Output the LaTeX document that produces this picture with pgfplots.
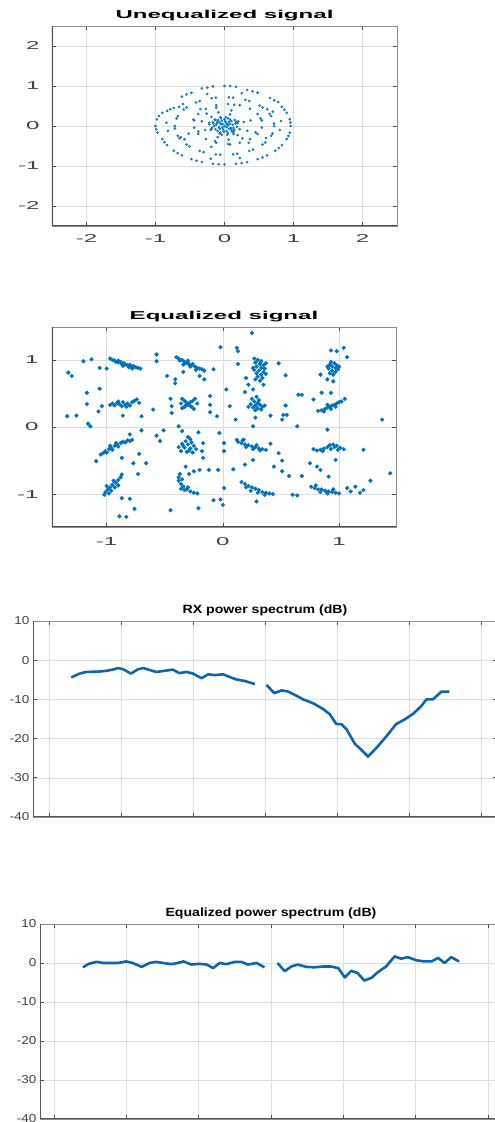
\documentclass[border=0pt]{standalone}
\usepackage{fontspec}
\setmainfont{Liberation Sans}
\usepackage{pgfplots}
\pgfplotsset{compat=1.18}
% the reference is stretched sideways, so the text is too
\newfontfamily\scfont{Liberation Sans}[FakeStretch=2.1]
\newfontfamily\spfont{Liberation Sans}[FakeStretch=1.18]
\definecolor{mblue}{rgb}{0,0.447,0.741}
\definecolor{lblue}{rgb}{0.05,0.40,0.68}

\pgfplotsset{
  matbase/.style={
    scale only axis, anchor=south west,
    axis line style={draw=black!45, line width=0.6bp},
    grid=major, major grid style={draw=black!13, line width=0.5bp},
    tick style={draw=black!70, line width=0.6bp},
    major tick length=4bp, tick align=inside,
    /pgf/number format/assume math mode=true,
    title style={at={(0.5,1)}, anchor=south, inner sep=1bp, yshift=-2.5bp},
  },
  scat/.style={matbase,
    ticklabel style={font=\scfont\fontsize{11.5}{12}\selectfont, text=black!75},
    title style={font=\scfont\bfseries\fontsize{11.5}{12}\selectfont},
    yticklabel style={xshift=-9bp},
    xticklabel style={yshift=-5bp},
  },
  spec/.style={matbase,
    ticklabel style={font=\spfont\fontsize{11.5}{12}\selectfont, text=black!75},
    title style={font=\spfont\bfseries\fontsize{12}{13}\selectfont},
    ymin=-40, ymax=10, ytick={-40,-30,-20,-10,0,10},
    xtick={0,1,2,3,4,5,6}, xticklabels={},
    unbounded coords=jump,
  },
}

\begin{document}
\begin{tikzpicture}
\useasboundingbox (0,0) rectangle (495bp,1122bp);

% ---------- Unequalized signal ----------
\begin{axis}[scat, at={(52bp,896bp)}, width=345bp, height=200bp,
  xmin=-2.5, xmax=2.5, ymin=-2.5, ymax=2.5,
  xtick={-2,-1,0,1,2}, ytick={-2,-1,0,1,2},
  title={Unequalized signal}]
\addplot[mblue, only marks, mark=*, mark size=1.1bp, mark options={draw=none, fill=mblue, fill opacity=0.8}] coordinates {
 (0.96,0) (0.956,0.084) (0.946,0.167) (0.902,0.328) (0.87,0.406) (0.831,0.48)
 (0.78,0.6) (0.72,0.64) (0.66,0.7) (0.48,0.831) (0.406,0.87) (0.328,0.902)
 (0.167,0.98) (0.084,1.0) (0,1.0) (-0.167,0.99) (-0.248,0.96) (-0.328,0.94)
 (-0.48,0.831) (-0.551,0.786) (-0.617,0.735) (-0.735,0.45) (-0.786,0.42) (-0.831,0.38)
 (-0.902,0.328) (-0.95,0.248) (-0.98,0.167) (-1.0,0) (-0.99,-0.084) (-0.97,-0.167)
 (-0.902,-0.328) (-0.87,-0.406) (-0.831,-0.48) (-0.735,-0.617) (-0.679,-0.679) (-0.617,-0.735)
 (-0.48,-0.831) (-0.406,-0.87) (-0.328,-0.902) (-0.167,-0.946) (-0.084,-0.956) (0,-0.96)
 (0.167,-0.946) (0.248,-0.927) (0.328,-0.902) (0.48,-0.831) (0.551,-0.786) (0.617,-0.735)
 (0.735,-0.617) (0.786,-0.551) (0.831,-0.48) (0.902,-0.328) (0.927,-0.248) (0.946,-0.167)
 (0.72,0) (0.717,0.063) (0.677,0.246) (0.653,0.304) (0.552,0.463) (0.509,0.509)
 (0.36,0.624) (0.304,0.653) (0.125,0.709) (0.063,0.717) (-0.125,0.709) (-0.186,0.695)
 (-0.36,0.624) (-0.413,0.59) (-0.552,0.463) (-0.59,0.413) (-0.677,0.246) (-0.695,0.186)
 (-0.72,0) (-0.717,-0.063) (-0.677,-0.246) (-0.653,-0.304) (-0.552,-0.463) (-0.509,-0.509)
 (-0.36,-0.624) (-0.304,-0.653) (-0.125,-0.709) (-0.063,-0.717) (0.125,-0.709) (0.186,-0.695)
 (0.36,-0.624) (0.413,-0.59) (0.552,-0.463) (0.59,-0.413) (0.677,-0.246) (0.695,-0.186)
 (0.54,0.14) (0.48,0.3) (0.37,0.43) (0.22,0.52) (0.05,0.55) (-0.12,0.52)
 (-0.27,0.43) (-0.38,0.3) (-0.44,0.14) (-0.44,-0.04) (-0.38,-0.2) (-0.27,-0.33)
 (-0.12,-0.42) (0.05,-0.45) (0.22,-0.42) (0.37,-0.33) (0.48,-0.2) (0.54,-0.04)
 (0.19,0.07) (0.28,0.1) (0.38,0.14) (0.52,0.19) (0.05,0.19) (0.08,0.29) (0.1,0.39) (0.14,0.53)
 (-0.13,0.15) (-0.19,0.23) (-0.26,0.31) (-0.35,0.42) (-0.19,-0.07) (-0.28,-0.1) (-0.38,-0.14) (-0.52,-0.19)
 (-0.07,-0.19) (-0.1,-0.28) (-0.14,-0.38) (-0.19,-0.52) (0.13,-0.15) (0.19,-0.23) (0.26,-0.31) (0.35,-0.42)
 (0.22,-0.08) (0.33,-0.12) (0.45,-0.16) (-0.22,0.08) (-0.33,0.12) (-0.45,0.16)
 (-0.06,0.22) (-0.09,0.34) (-0.12,0.46) (0.04,-0.22) (0.06,-0.34) (0.08,-0.46)
 (0,0) (0.05,0.02) (-0.05,0.04) (0.02,0.08) (-0.08,-0.03) (0.09,-0.05) (-0.02,-0.09) (0.06,0.1)
 (-0.11,0.07) (0.12,0.03) (-0.04,0.13) (0.03,-0.13) (-0.13,-0.08) (0.1,0.12) (-0.09,0.15) (0.14,-0.1)
 (-0.15,0) (0.16,0.06) (0,0.17) (-0.06,-0.16) (0.07,-0.07) (-0.07,0.08) (0.04,0.04) (-0.03,-0.04)
 (0.11,-0.14) (-0.17,0.1) (0.18,-0.02) (-0.1,-0.13) (0.08,0.16) (-0.14,0.16) (0.2,0.12) (-0.2,-0.1)
 (0.02,0.22) (-0.22,0.04) (0.13,-0.2) (-0.04,-0.22)
 (-0.03,0.05) (0.03,-0.03) (-0.07,-0.07) (0.08,0.05) (-0.12,0.03) (0.13,-0.05) (-0.05,0.19) (0.05,-0.18)
 (-0.18,-0.04) (0.17,0.1) (-0.1,0.11) (0.1,-0.1) (0.01,0.12) (-0.01,-0.14) (-0.16,0.06) (0.15,0.15)
 (-0.6,0.55) (-0.66,0.48) (0.62,0.42) (0.7,0.36) (-0.58,-0.33) (-0.63,-0.28) (0.6,-0.3) (0.25,0.82)
 (-0.25,0.8) (0.22,-0.8) (-0.2,-0.82) (0.82,0.12) (-0.84,0.08) (0.8,-0.1) (-0.82,-0.12)
};
\draw[black!70, line width=1.4bp] (rel axis cs:0,1) -- (rel axis cs:0,0) -- (rel axis cs:1,0);
\end{axis}

% ---------- Equalized signal ----------
\begin{axis}[scat, at={(52bp,595bp)}, width=344bp, height=200bp,
  xmin=-1.47, xmax=1.49, ymin=-1.49, ymax=1.49,
  xtick={-1,0,1}, ytick={-1,0,1},
  xticklabel style={yshift=-2bp}, yticklabel style={xshift=-1bp},
  title={Equalized signal}]
\addplot[mblue, only marks, mark=*, mark size=1.9bp, mark options={draw=none, fill=mblue}] coordinates {
 (-0.97,1.02) (-0.95,1.0) (-0.93,0.99) (-0.92,0.97) (-0.9,0.96) (-0.88,0.97) (-0.87,0.94) (-0.85,0.95)
 (-0.84,0.93) (-0.82,0.92) (-0.8,0.93) (-0.79,0.9) (-0.77,0.91) (-0.75,0.89) (-0.73,0.88) (-0.71,0.87)
 (-0.86,0.91) (-0.81,0.89) (-0.9,0.99) (-0.78,0.87)
 (-0.4,1.04) (-0.38,1.02) (-0.37,0.99) (-0.35,1.0) (-0.33,0.97) (-0.32,0.95) (-0.3,0.96) (-0.29,0.93)
 (-0.27,0.92) (-0.26,0.94) (-0.24,0.9) (-0.22,0.88) (-0.2,0.87) (-0.18,0.86) (-0.16,0.84) (-0.34,0.93)
 (-0.28,0.9) (-0.3,0.99) (-0.23,0.85)
 (0.27,1.02) (0.3,1.0) (0.33,0.98) (0.28,0.96) (0.32,0.94) (0.35,0.92) (0.29,0.9) (0.33,0.88)
 (0.36,0.87) (0.27,0.85) (0.31,0.84) (0.35,0.82) (0.29,0.8) (0.33,0.78) (0.37,0.79) (0.3,0.75)
 (0.34,0.73) (0.28,0.71) (0.32,0.69) (0.26,0.88) (0.37,0.95)
 (0.93,0.97) (0.96,0.95) (0.92,0.93) (0.98,0.92) (0.94,0.9) (0.97,0.88) (0.91,0.87) (0.99,0.86)
 (0.94,0.84) (0.97,0.82) (0.92,0.8) (0.95,0.78) (1.0,0.9) (0.9,0.9)
 (-0.97,0.33) (-0.95,0.35) (-0.93,0.32) (-0.91,0.36) (-0.89,0.34) (-0.87,0.31) (-0.86,0.37) (-0.84,0.33)
 (-0.82,0.35) (-0.8,0.32) (-0.78,0.37) (-0.76,0.39) (-0.74,0.41) (-0.72,0.36) (-0.9,0.38) (-0.83,0.3)
 (-0.35,0.42) (-0.33,0.39) (-0.31,0.36) (-0.29,0.33) (-0.27,0.3) (-0.25,0.27) (-0.24,0.42) (-0.26,0.39)
 (-0.3,0.33) (-0.33,0.3) (-0.35,0.28) (-0.22,0.35) (-0.36,0.35) (-0.28,0.37) (-0.32,0.32)
 (0.25,0.42) (0.27,0.38) (0.3,0.36) (0.24,0.34) (0.28,0.32) (0.32,0.33) (0.26,0.29) (0.3,0.28)
 (0.34,0.3) (0.22,0.3) (0.28,0.25) (0.33,0.26) (0.36,0.32) (0.29,0.45) (0.31,0.4)
 (0.82,0.24) (0.85,0.25) (0.88,0.27) (0.9,0.29) (0.92,0.3) (0.94,0.32) (0.96,0.33) (0.98,0.35)
 (1.0,0.37) (1.02,0.38) (0.87,0.23) (0.93,0.27) (0.97,0.3) (0.9,0.33)
 (-1.05,-0.41) (-1.03,-0.39) (-1.01,-0.36) (-1.0,-0.38) (-0.98,-0.33) (-0.96,-0.31) (-0.95,-0.34) (-0.93,-0.28)
 (-0.91,-0.26) (-0.9,-0.29) (-0.88,-0.24) (-0.86,-0.22) (-0.84,-0.23) (-0.82,-0.2) (-0.8,-0.21) (-0.78,-0.19)
 (-0.97,-0.28) (-0.92,-0.24)
 (-0.3,-0.15) (-0.28,-0.18) (-0.32,-0.21) (-0.27,-0.23) (-0.35,-0.25) (-0.3,-0.26) (-0.25,-0.28) (-0.38,-0.3)
 (-0.33,-0.31) (-0.28,-0.32) (-0.23,-0.33) (-0.36,-0.36) (-0.31,-0.37) (-0.26,-0.38) (-0.29,-0.35) (-0.34,-0.28)
 (0.13,-0.22) (0.16,-0.24) (0.19,-0.26) (0.22,-0.27) (0.25,-0.29) (0.28,-0.3) (0.31,-0.32) (0.34,-0.33)
 (0.37,-0.34) (0.2,-0.3) (0.26,-0.33) (0.32,-0.35) (0.17,-0.2) (0.29,-0.27)
 (0.78,-0.33) (0.81,-0.35) (0.84,-0.34) (0.87,-0.32) (0.9,-0.3) (0.92,-0.27) (0.95,-0.26) (0.98,-0.28)
 (1.01,-0.31) (1.04,-0.33) (0.86,-0.36) (0.93,-0.33) (0.99,-0.34) (0.96,-0.3)
 (-0.88,-0.75) (-0.9,-0.79) (-0.92,-0.83) (-0.95,-0.86) (-0.97,-0.9) (-0.99,-0.93) (-1.01,-0.97) (-1.02,-1.01)
 (-0.93,-0.9) (-0.96,-0.95) (-0.98,-0.99) (-0.9,-0.87) (-1.0,-0.88) (-0.94,-0.8)
 (-0.37,-0.7) (-0.38,-0.75) (-0.38,-0.8) (-0.36,-0.85) (-0.34,-0.89) (-0.31,-0.93) (-0.28,-0.96) (-0.25,-0.98)
 (-0.22,-0.99) (-0.35,-0.78) (-0.33,-0.94) (-0.3,-0.9) (-0.36,-0.92)
 (0.16,-0.82) (0.19,-0.85) (0.22,-0.88) (0.25,-0.9) (0.28,-0.92) (0.31,-0.94) (0.34,-0.97) (0.37,-0.98)
 (0.4,-0.99) (0.43,-1.0) (0.24,-0.95) (0.3,-0.98) (0.36,-1.01) (0.2,-0.9)
 (0.76,-0.89) (0.79,-0.91) (0.82,-0.93) (0.85,-0.93) (0.88,-0.95) (0.91,-0.96) (0.94,-0.97) (0.97,-0.98)
 (1.0,-0.99) (0.84,-0.97) (0.9,-0.99) (0.8,-0.87) (0.95,-0.93)
 (0.25,1.4) (-0.02,1.19) (0.12,1.18) (0.13,1.13) (1.04,1.18) (0.93,1.14) (0.98,1.13) (-0.57,1.08)
 (-0.57,0.98) (-1.13,1.01) (-1.2,0.98) (-1.06,0.88) (-1.0,0.87) (-1.33,0.81) (-1.3,0.76) (-0.08,0.86)
 (-0.2,0.76) (-0.16,0.71) (-0.48,0.76) (-0.41,0.71) (-0.41,0.65) (-0.34,0.82) (0.13,0.94) (0.2,0.73)
 (0.22,0.63) (0.35,0.63) (0.26,0.56) (0.48,0.95) (0.54,0.77) (1.07,1.04) (0.84,0.78) (0.9,0.71)
 (0.95,0.68) (0.03,0.56) (0.19,0.52) (-1.17,0.51) (-1.06,0.57) (-1.17,0.34) (-1.04,0.31) (-1.07,0.23)
 (-1.34,0.16) (-1.26,0.17) (-1.16,0.05) (-1.14,0.01) (-0.86,0.17) (-0.7,0.16) (-0.6,0.26) (-0.45,0.42)
 (-0.44,0.31) (-0.44,0.21) (-0.11,0.46) (-0.11,0.33) (-0.11,0.22) (-0.05,0.16) (0.06,0.31) (0.11,0.11)
 (0.28,0.14) (0.41,0.17) (0.54,0.32) (0.52,0.18) (0.55,0.18) (0.51,0.11) (0.65,0.48) (0.68,0.48)
 (0.78,0.41) (0.85,0.51) (0.93,0.51) (1.05,0.42) (1.37,0.11) (0.64,0.01) (0.26,0.01) (-0.38,0.01)
 (-0.51,-0.05) (-0.57,-0.13) (-0.54,-0.21) (-0.7,-0.05) (-0.8,-0.11) (-0.72,-0.4) (-0.77,-0.54) (-0.66,-0.54)
 (-1.09,-0.51) (-0.87,-0.46) (-0.35,-0.06) (-0.21,-0.08) (-0.17,-0.24) (-0.18,-0.36) (-0.17,-0.46) (-0.03,-0.09)
 (0.01,-0.24) (0.01,-0.36) (0.12,-0.19) (0.18,-0.19) (0.26,-0.49) (0.19,-0.56) (0.09,-0.63) (0.41,-0.25)
 (0.48,-0.39) (0.51,-0.5) (0.44,-0.59) (0.51,-0.66) (0.57,-0.73) (0.68,-0.73) (0.75,-0.54) (0.81,-0.59)
 (0.84,-0.64) (0.91,-0.74) (0.97,-0.49) (1.21,-0.34) (0.9,-0.04) (1.44,-0.69) (1.27,-0.8) (1.21,-0.94)
 (1.14,-0.89) (1.18,-0.98) (1.07,-0.91) (1.1,-0.96) (0.6,-1.01) (0.64,-1.02) (0.29,-1.11) (-0.02,-1.08)
 (0,-1.16) (-0.08,-1.09) (-0.21,-1.21) (-0.45,-1.24) (-0.76,-1.22) (-0.89,-1.33) (-0.83,-1.34) (-0.87,-1.06)
 (-0.8,-1.07) (-0.73,-0.7) (-0.87,-0.71) (-0.32,-0.59) (-0.25,-0.66) (-0.2,-0.64) (-0.12,-0.64) (-0.29,-0.7)
 (-0.04,-0.64) (0.01,-0.91)
};
\draw[black!70, line width=1.4bp] (rel axis cs:0,1) -- (rel axis cs:0,0) -- (rel axis cs:1,0);
\end{axis}

% ---------- RX power spectrum ----------
\begin{axis}[spec, at={(33bp,305bp)}, width=464bp, height=196bp,
  xmin=-0.22, xmax=6.22,
  title={RX power spectrum (dB)}]
\addplot[lblue, line width=2.6bp, line join=round] coordinates {
 (0.31,-4.4) (0.43,-3.4) (0.52,-3.0) (0.70,-2.9) (0.80,-2.7) (0.91,-2.3) (0.96,-2.0) (1.03,-2.3)
 (1.14,-3.4) (1.24,-2.3) (1.31,-2.0) (1.38,-2.4) (1.49,-3.0) (1.61,-2.7) (1.72,-2.4) (1.81,-3.3)
 (1.91,-3.0) (2.00,-3.4) (2.12,-4.6) (2.21,-3.6) (2.30,-3.8) (2.42,-3.6) (2.51,-4.3) (2.60,-4.9)
 (2.72,-5.3) (2.86,-6.1)
 (2.95,nan)
 (3.02,-6.3) (3.13,-8.4) (3.23,-7.7) (3.32,-8.0) (3.44,-9.1) (3.53,-10.0) (3.67,-11.0) (3.81,-12.5)
 (3.90,-13.8) (3.99,-16.3) (4.06,-16.3) (4.13,-17.6) (4.25,-21.4) (4.34,-22.9) (4.43,-24.6) (4.55,-22.3)
 (4.69,-19.3) (4.82,-16.3) (4.94,-15.1) (5.06,-13.6) (5.17,-11.7) (5.24,-10.0) (5.33,-10.0) (5.45,-8.0)
 (5.56,-8.0)
};
\draw[black!65, line width=1bp] (rel axis cs:0,1) -- (rel axis cs:0,0) -- (rel axis cs:1,0);
\end{axis}

% ---------- Equalized power spectrum ----------
\begin{axis}[spec, at={(40bp,3bp)}, width=462bp, height=195bp,
  xmin=-0.194, xmax=6.194,
  title={Equalized power spectrum (dB)}]
\addplot[lblue, line width=2.6bp, line join=round] coordinates {
 (0.40,-1.1) (0.48,-0.2) (0.59,0.3) (0.68,0) (0.77,0) (0.88,0) (1.00,0.4) (1.09,0)
 (1.21,-1.0) (1.32,0) (1.41,0.3) (1.51,0) (1.62,-0.3) (1.71,0) (1.79,0.4) (1.90,-0.4)
 (2.01,-0.2) (2.11,-0.4) (2.20,-1.3) (2.29,0) (2.38,-0.3) (2.50,0.3) (2.59,0.3) (2.68,-0.4)
 (2.80,0) (2.91,-1.1)
 (3.0,nan)
 (3.09,0) (3.19,-2.1) (3.28,-0.9) (3.37,-0.4) (3.49,-1.0) (3.60,-1.1) (3.72,-0.9) (3.83,-0.9)
 (3.93,-1.3) (4.02,-3.7) (4.11,-2.0) (4.20,-2.6) (4.29,-4.5) (4.39,-3.8) (4.48,-2.3) (4.59,-0.9)
 (4.71,1.7) (4.80,1.1) (4.89,1.5) (5.01,0.7) (5.12,0.4) (5.22,0.4) (5.31,1.3) (5.40,0)
 (5.49,1.5) (5.60,0.4)
};
\draw[black!65, line width=1bp] (rel axis cs:0,1) -- (rel axis cs:0,0) -- (rel axis cs:1,0);
\end{axis}
\end{tikzpicture}
\end{document}
